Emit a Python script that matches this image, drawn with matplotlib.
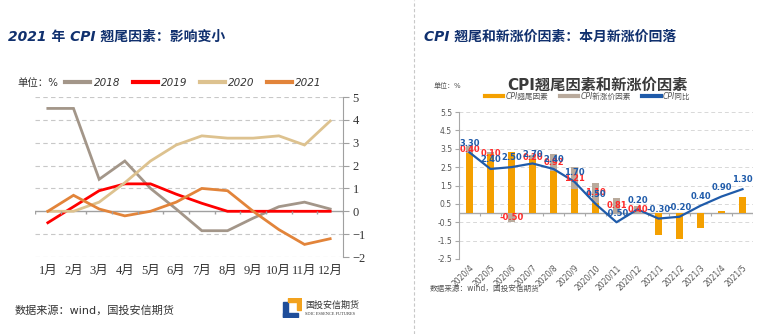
import numpy as np
import matplotlib
matplotlib.use("Agg")
import matplotlib.pyplot as plt
from matplotlib.lines import Line2D
from matplotlib.patches import Rectangle

plt.rcParams['font.family'] = ['DejaVu Sans', 'Noto Sans CJK SC']

# ---- data: left chart (CPI carry-over by year) ----
months = ['1月', '2月', '3月', '4月', '5月', '6月', '7月', '8月', '9月', '10月', '11月', '12月']
y2018 = [4.5, 4.5, 1.4, 2.2, 1.0, 0.1, -0.85, -0.85, -0.3, 0.2, 0.4, 0.1]
y2019 = [-0.5, 0.2, 0.9, 1.2, 1.2, 0.75, 0.35, 0.0, 0.0, 0.0, 0.0, 0.0]
y2020 = [0.0, 0.0, 0.4, 1.25, 2.2, 2.9, 3.3, 3.2, 3.2, 3.3, 2.9, 3.95]
y2021 = [0.0, 0.7, 0.1, -0.2, 0.0, 0.4, 1.0, 0.9, 0.0, -0.8, -1.45, -1.2]
years = ['2018', '2019', '2020', '2021']
year_colors = ['#A39689', '#FF0000', '#DDC28F', '#E2843A']

# ---- data: right chart ----
periods = ['2020/4', '2020/5', '2020/6', '2020/7', '2020/8', '2020/9', '2020/10',
           '2020/11', '2020/12', '2021/1', '2021/2', '2021/3', '2021/4', '2021/5']
carry = [3.25, 3.2, 3.35, 2.95, 2.3, 1.3, 0.55, 0.0, 0.0, -1.2, -1.4, -0.8, 0.1, 0.9]
newprice = [0.40, 0.10, -0.50, 0.20, 0.92, 1.21, 1.10, 0.81, 0.40,
            np.nan, np.nan, np.nan, np.nan, np.nan]
cpi = [3.3, 2.4, 2.5, 2.7, 2.4, 1.7, 0.5, -0.5, 0.2, -0.3, -0.2, 0.4, 0.9, 1.3]

W, H = 768, 334
fig = plt.figure(figsize=(W / 100, H / 100), dpi=100)

def fx(px):
    return px / W

def fy(py):
    return 1 - py / H

navy = '#10306E'
title_font = dict(fontsize=10, fontweight='bold', style='italic', color=navy,
                  va='center', ha='left')
fig.text(fx(8), fy(37), '2021 年 CPI 翘尾因素：影响变小', **title_font)
fig.text(fx(424), fy(37), 'CPI 翘尾和新涨价因素：本月新涨价回落', **title_font)

# separator
fig.add_artist(Line2D([fx(414), fx(414)], [0, 1], color='#C8C8C8', lw=0.8,
                      ls=(0, (3, 2)), transform=fig.transFigure))

# ---------------- left chart ----------------
ax = fig.add_axes([fx(35), fy(257), fx(343 - 35), fy(97) - fy(257)])
x = np.arange(len(months))
for vals, c in zip([y2018, y2019, y2020, y2021], year_colors):
    ax.plot(x, vals, color=c, lw=2.0, solid_joinstyle='miter')
ax.set_xlim(-0.5, 11.5)
ax.set_ylim(-2, 5)
for s in ['top', 'left', 'bottom']:
    ax.spines[s].set_visible(False)
ax.spines['right'].set_color('#A0A0A0')
ax.yaxis.tick_right()
ax.set_yticks(range(-2, 6))
serif = ['Liberation Serif', 'Noto Sans CJK SC']
for lab in ax.get_yticklabels():
    lab.set_fontfamily(serif)
ax.tick_params(axis='y', length=4, color='#A0A0A0', labelsize=9, labelcolor='#333333', pad=3)
for v in [-2, -1, 1, 2, 3, 4, 5]:
    ax.axhline(v, color='#C8C8C8', lw=0.8, ls=(0, (4, 3)), zorder=0)
ax.axhline(0, color='#A0A0A0', lw=1.0, zorder=1)
ax.vlines(np.arange(-0.5, 12, 1), -0.12, 0, color='#A0A0A0', lw=1.0)
ax.set_xticks(x)
ax.set_xticklabels(months, fontfamily=serif, fontsize=9, color='#333333')
ax.tick_params(axis='x', length=0, pad=6)
ax.set_zorder(2)

handles = [Line2D([], [], color=c, lw=3) for c in year_colors]
fig.text(fx(17), fy(83), '单位：%', fontsize=7.5, color='#333333', va='center')
fig.legend(handles, years, loc='center left', bbox_to_anchor=(fx(56), fy(83)),
           ncol=4, frameon=False, handlelength=2.4, handletextpad=0.3,
           columnspacing=1.2, prop=dict(size=7.5, style='italic'), labelcolor='#333333')

fig.text(fx(15), fy(310), '数据来源：wind，国投安信期货', fontsize=8, color='#333333', va='center')

# logo
lax = fig.add_axes([fx(282), fy(318), fx(20), fy(298) - fy(318)])
lax.set_xlim(0, 1)
lax.set_ylim(0, 1)
lax.axis('off')
lax.add_patch(Rectangle((0.05, 0.05), 0.25, 0.75, color='#1F4E9A'))
lax.add_patch(Rectangle((0.05, 0.05), 0.75, 0.22, color='#1F4E9A'))
lax.add_patch(Rectangle((0.3, 0.78), 0.65, 0.2, color='#F2A21E'))
lax.add_patch(Rectangle((0.75, 0.4), 0.2, 0.58, color='#F2A21E'))
fig.text(fx(305), fy(305), '国投安信期货', fontsize=6.5, color='#333333', va='center')
fig.text(fx(305), fy(314), 'SDIC ESSENCE FUTURES', fontsize=3.2, color='#333333', va='center',
         fontfamily='Liberation Serif')

# ---------------- right chart ----------------
bx = fig.add_axes([fx(459), fy(259), fx(753 - 459), fy(112) - fy(259)])
xr = np.arange(len(periods))
orange = '#F4A000'
graybar = '#B9AA9C'
blue = '#1F5BAA'
bw = 0.37
bx.bar(xr, carry, width=bw, color=orange, zorder=2)
newv = np.array(newprice, dtype=float)
carry_a = np.array(carry)
bottoms = np.where(newv >= 0, np.maximum(carry_a, 0), np.minimum(carry_a, 0))
mask = ~np.isnan(newv)
bx.bar(xr[mask], newv[mask], bottom=bottoms[mask], width=bw, color=graybar, zorder=2)
bx.plot(xr, cpi, color=blue, lw=1.6, zorder=4)

for i in xr[mask]:
    bx.text(i, bottoms[i] + newv[i] / 2, f'{newv[i]:.2f}', color='#FF2A2A', fontsize=6,
            fontweight='bold', ha='center', va='center', zorder=5)
for i, v in enumerate(cpi):
    bx.text(i, v + 0.5, f'{v:.2f}', color=blue, fontsize=6, fontweight='bold',
            ha='center', va='center', zorder=6)

bx.set_xlim(-0.5, 13.5)
bx.set_ylim(-2.5, 5.5)
yt = np.arange(-2.5, 5.6, 1.0)
bx.set_yticks(yt)
bx.set_yticklabels([f'{v:.1f}' for v in yt])
for v in yt:
    bx.axhline(v, color='#D8D8D8', lw=0.7, ls=(0, (4, 3)), zorder=0)
bx.axhline(0, color='#A8A8A8', lw=1.0, zorder=1)
bx.vlines(np.arange(-0.5, 14, 1), -0.15, 0, color='#A8A8A8', lw=0.8, zorder=1)
for s in ['top', 'right', 'bottom']:
    bx.spines[s].set_visible(False)
bx.spines['left'].set_color('#A8A8A8')
bx.tick_params(axis='y', length=3, color='#A8A8A8', labelsize=5.5, labelcolor='#555555', pad=2)
bx.set_xticks(xr)
bx.set_xticklabels(periods, rotation=45, ha='right', rotation_mode='anchor',
                   fontsize=5.5, color='#555555')
bx.tick_params(axis='x', length=0, pad=3)

fig.text(fx(597), fy(85), 'CPI翘尾因素和新涨价因素', fontsize=11, fontweight='bold',
         color='#3A3A3A', ha='center', va='center')
fig.text(fx(434), fy(85), '单位：%', fontsize=5, color='#555555', va='center')
rhandles = [Line2D([], [], color=c, lw=3) for c in [orange, graybar, blue]]
fig.legend(rhandles, ['CPI翘尾因素', 'CPI新涨价因素', 'CPI同比'], loc='center left',
           bbox_to_anchor=(fx(478), fy(96)), ncol=3, frameon=False, handlelength=2.4,
           handletextpad=0.3, columnspacing=1.5, prop=dict(size=5.5, style='italic'),
           labelcolor='#555555')
fig.text(fx(430), fy(288), '数据来源：wind，国投安信期货', fontsize=5.5, color='#555555', va='center')

fig.savefig('out.png', dpi=100)
